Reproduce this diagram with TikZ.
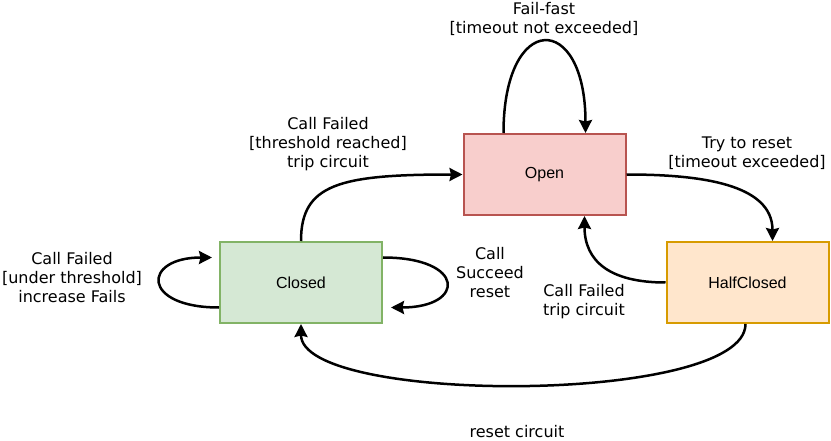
\documentclass[tikz,border=0pt]{standalone}
\usepackage{fontspec}
\setmainfont{DejaVu Sans}
\newfontfamily\statefont{Liberation Sans}
\usetikzlibrary{arrows.meta}

\begin{document}
\begin{tikzpicture}[x=1pt, y=-1pt,
        state/.style={rectangle, draw, line width=2pt, minimum width=162pt, minimum height=81pt, inner sep=0pt, font=\statefont\fontsize{16}{19}\selectfont},
        lbl/.style={align=center, font=\fontsize{16}{19}\selectfont, inner sep=0pt},
        trans/.style={line width=2.5pt, -{Stealth[length=13pt, width=13pt, inset=1.5pt]}}]
        \useasboundingbox (0,0) rectangle (831,441);

        \definecolor{greenfill}{HTML}{D5E8D4}
        \definecolor{greenline}{HTML}{82B366}
        \definecolor{redfill}{HTML}{F8CECC}
        \definecolor{redline}{HTML}{B85450}
        \definecolor{orangefill}{HTML}{FFE6CC}
        \definecolor{orangeline}{HTML}{D79B00}

        \node[state, fill=greenfill, draw=greenline] (closed) at (301,282.5) {Closed};
        \node[state, fill=redfill, draw=redline] (open) at (544.5,174.5) {Open};
        \node[state, fill=orangefill, draw=orangeline] (half) at (747.5,282.5) {HalfClosed};

        \node[lbl] (tripped) at (328,144) {Call Failed\\{[}threshold reached{]}\\trip circuit};
        \node[lbl] (failfast) at (544,19) {Fail-fast\\{[}timeout not exceeded{]}};
        \node[lbl] (tryreset) at (747,153) {Try to reset\\{[}timeout exceeded{]}};
        \node[lbl] (underthr) at (72,278) {Call Failed\\{[}under threshold{]}\\increase Fails};
        \node[lbl] (succeed) at (490,273) {Call\\Succeed\\reset};
        \node[lbl] (retrip) at (584,301.5) {Call Failed\\trip circuit};
        \node[lbl] (resetc) at (517,432) {reset circuit};

        \draw[trans] (closed.north) .. controls +(0,-57) and +(-123,0) .. (open.west);
        \draw[trans] ([xshift=-41pt]open.north) .. controls +(0,-122) and +(0,-122) .. ([xshift=41pt]open.north);
        \draw[trans] (open.east) .. controls +(74,0) and +(0,-57) .. ([xshift=25pt]half.north);
        \draw[trans] (half.west) .. controls +(-56,0) and +(0,45) .. ([xshift=40pt]open.south);
        \draw[trans] ([xshift=-2pt]half.south) .. controls +(0,81) and +(0,81) .. (closed.south);
        \draw[trans] ([yshift=-25pt]closed.west) .. controls +(-78,0) and +(-70,0) .. ([xshift=-7pt,yshift=25pt]closed.west);
        \draw[trans] ([yshift=25pt]closed.east) .. controls +(83,0) and +(75,0) .. ([xshift=8pt,yshift=-25pt]closed.east);

    \end{tikzpicture}
\end{document}
